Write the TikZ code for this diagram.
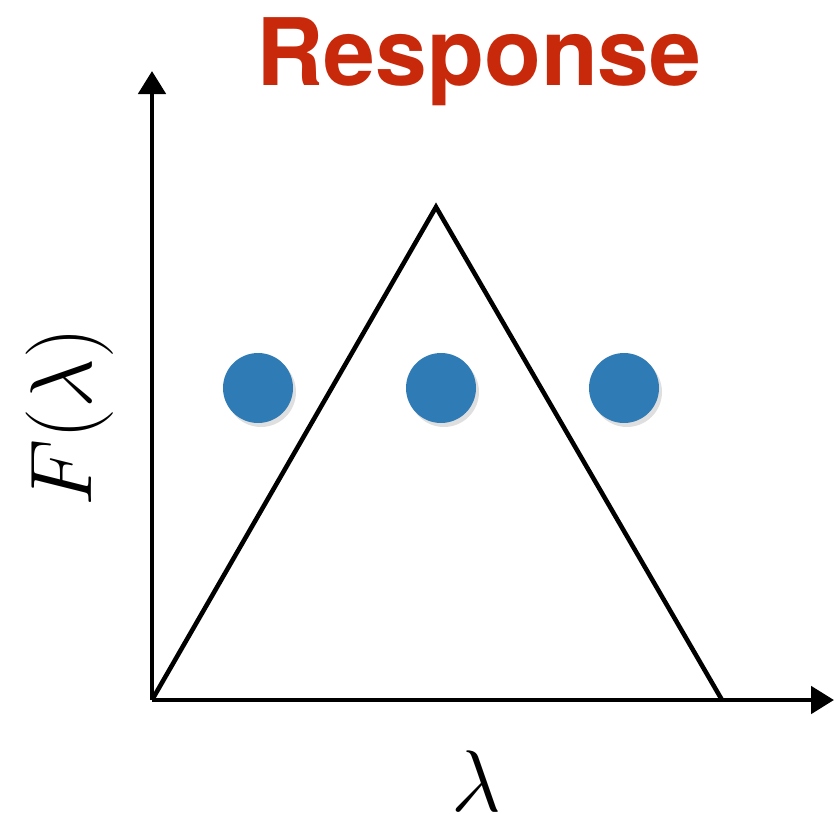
\documentclass[tikz,border=0pt]{standalone}
\usepackage{fontspec}
\newfontfamily\titlefont{TeX Gyre Heros}
\definecolor{RespRed}{HTML}{C8290B}
\definecolor{DotBlue}{HTML}{2F7BB5}
\usetikzlibrary{arrows.meta, positioning, calc, shadows}

\begin{document}
\begin{tikzpicture}[>={Triangle[length=0.23cm, width=0.27cm]},
  dot/.style={circle, fill=DotBlue, minimum size=0.7cm, inner sep=0pt,
    drop shadow={opacity=0.25, shadow xshift=0.03cm, shadow yshift=-0.04cm}},
  axislabel/.style={inner sep=0pt, font=\fontsize{28.5}{32}\selectfont}]
  \useasboundingbox (0,0) rectangle (8.34,8.13);
  % Axes
  \coordinate (O) at (1.52,1.13);
  \coordinate (ytip) at (1.52,7.42);
  \coordinate (xtip) at (8.34,1.13);
  \draw[->, line width=1.4pt] (O) -- (ytip);
  \draw[->, line width=1.4pt] (O) -- (xtip);
  % Triangle response
  \coordinate (apex) at (4.36,6.06);
  \coordinate (right) at (7.22,1.13);
  \draw[line width=1.3pt, line join=miter] (O) -- (apex) -- (right);
  % Points
  \node[dot] (d1) at (2.58,4.25) {};
  \node[dot] (d2) at (4.41,4.25) {};
  \node[dot] (d3) at (6.24,4.25) {};
  % Labels
  \node[axislabel, anchor=base] (xlab) at (4.76,0.02) {$\lambda$};
  \node[axislabel, rotate=90] (ylab) at (0.70,3.96) {$F(\lambda)$};
  \node[anchor=base, text=RespRed, font=\titlefont\bfseries\fontsize{26.5}{30}\selectfont]
    (title) at (4.79,7.28) {Response};
\end{tikzpicture}
\end{document}
